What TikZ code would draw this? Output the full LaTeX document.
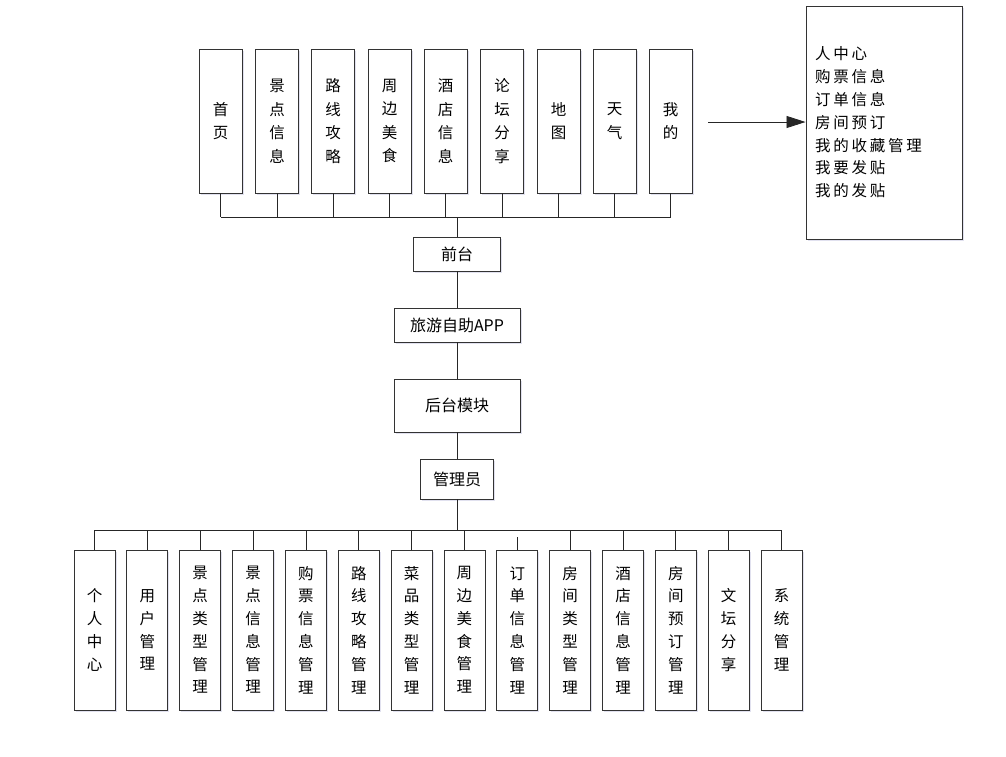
\documentclass[tikz,border=0pt]{standalone}
\usepackage{fontspec}
\newfontfamily\cjk{Noto Sans CJK SC}
\newfontfamily\cjkls{Noto Sans CJK SC}[LetterSpace=18]
\usetikzlibrary{arrows.meta,shadows}
\begin{document}
\begin{tikzpicture}[x=1pt,y=-1pt,
  box/.style={draw=black!80,line width=0.9pt,fill=white,inner sep=0pt,align=center,
    drop shadow={shadow xshift=1.5pt,shadow yshift=-1.5pt,fill=blue!30!gray,opacity=0.18}},
  tbox/.style={box,minimum width=43pt,minimum height=144pt,font=\cjk\fontsize{15.5}{23.5}\selectfont},
  bbox/.style={box,minimum width=41pt,minimum height=160pt,font=\cjk\fontsize{15.5}{22.8}\selectfont},
  mbox/.style={box,font=\cjk\fontsize{16}{18}\selectfont},
  conn/.style={draw=black!85,line width=0.8pt}]
\useasboundingbox (0,0) rectangle (1006,756);
% top boxes
\node[tbox] (t1) at (220.5,121) {首\\页};
\node[tbox] (t2) at (277,121) {景\\点\\信\\息};
\node[tbox] (t3) at (333,121) {路\\线\\攻\\略};
\node[tbox] (t4) at (389.5,121) {周\\边\\美\\食};
\node[tbox] (t5) at (445.5,121) {酒\\店\\信\\息};
\node[tbox] (t6) at (502,121) {论\\坛\\分\\享};
\node[tbox] (t7) at (558.5,121) {地\\图};
\node[tbox] (t8) at (614.5,121) {天\\气};
\node[tbox] (t9) at (670.5,121) {我\\的};
% right box
\node[box,minimum width=156pt,minimum height=233pt,text width=138pt,align=left,
  font=\cjkls\fontsize{15.5}{22.8}\selectfont] (rb) at (884,122.5)
  {人中心\\购票信息\\订单信息\\房间预订\\我的收藏管理\\我要发贴\\我的发贴};
\coordinate (as) at (708,122);
\draw[conn,-{Triangle[length=19pt,width=12pt]}] (as) -- (as -| rb.west);
% middle
\node[mbox,minimum width=87pt,minimum height=34pt] (qt) at (457,254) {前台};
\node[mbox,minimum width=126pt,minimum height=34pt] (app) at (457,325) {旅游自助APP};
\node[mbox,minimum width=126pt,minimum height=53pt] (ht) at (457,405.5) {后台模块};
\node[mbox,minimum width=73pt,minimum height=40pt] (gly) at (457,479) {管理员};
% top bus
\coordinate (topbus) at (457,217);
\foreach \i in {1,...,9}{\draw[conn] (t\i.south) -- (t\i.south |- topbus);}
\draw[conn] (t1.south |- topbus) -- (t9.south |- topbus);
\draw[conn] (topbus) -- (qt.north);
\draw[conn] (qt) -- (app);
\draw[conn] (app) -- (ht);
\draw[conn] (ht) -- (gly);
% bottom boxes
\node[bbox] (b1) at (94.5,630) {个\\人\\中\\心};
\node[bbox] (b2) at (147.35,630) {用\\户\\管\\理};
\node[bbox] (b3) at (200.2,630) {景\\点\\类\\型\\管\\理};
\node[bbox] (b4) at (253.05,630) {景\\点\\信\\息\\管\\理};
\node[bbox] (b5) at (305.9,630) {购\\票\\信\\息\\管\\理};
\node[bbox] (b6) at (358.75,630) {路\\线\\攻\\略\\管\\理};
\node[bbox] (b7) at (411.6,630) {菜\\品\\类\\型\\管\\理};
\node[bbox] (b8) at (464.45,630) {周\\边\\美\\食\\管\\理};
\node[bbox] (b9) at (517.3,630) {订\\单\\信\\息\\管\\理};
\node[bbox] (b10) at (570.15,630) {房\\间\\类\\型\\管\\理};
\node[bbox] (b11) at (623,630) {酒\\店\\信\\息\\管\\理};
\node[bbox] (b12) at (675.85,630) {房\\间\\预\\订\\管\\理};
\node[bbox] (b13) at (728.7,630) {文\\坛\\分\\享};
\node[bbox] (b14) at (781.55,630) {系\\统\\管\\理};
\coordinate (botbus) at (457,530);
\draw[conn] (gly) -- (botbus);
\draw[conn] (b1.north |- botbus) -- (b14.north |- botbus);
\foreach \i in {1,...,8,10,11,12,13,14}{\draw[conn] (b\i.north |- botbus) -- (b\i.north);}
\coordinate (gap9) at (517.3,537);
\draw[conn] (gap9) -- (b9.north);
\end{tikzpicture}
\end{document}
